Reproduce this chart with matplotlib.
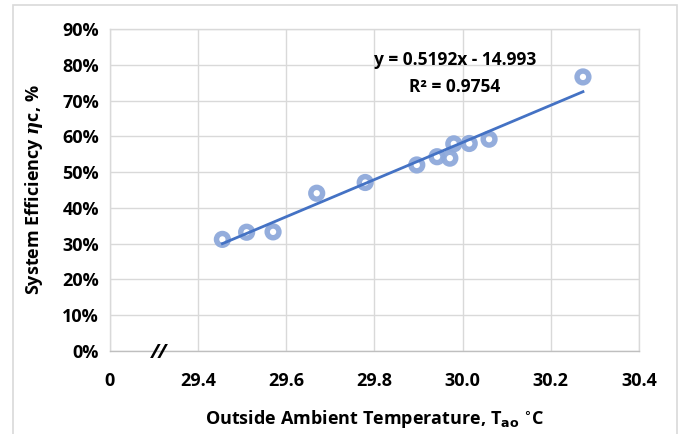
import numpy as np
import matplotlib
matplotlib.use("Agg")
import matplotlib.pyplot as plt
from matplotlib.ticker import FuncFormatter
from matplotlib.patches import Rectangle

plt.rcParams['font.family'] = ['Open Sans', 'DejaVu Sans']
plt.rcParams['font.weight'] = 'bold'
plt.rcParams['mathtext.fontset'] = 'custom'
plt.rcParams['mathtext.it'] = 'DejaVu Serif:italic'

# measured points (outside ambient temperature, system efficiency)
temp = [29.455, 29.510, 29.570, 29.669, 29.779, 29.896,
        29.942, 29.971, 29.980, 30.015, 30.060, 30.273]
eff = [0.312, 0.332, 0.333, 0.441, 0.471, 0.520,
       0.543, 0.539, 0.579, 0.580, 0.592, 0.766]

# linear fit shown on chart
slope = 0.5192
intercept = -14.993

xticks = [29.2, 29.4, 29.6, 29.8, 30.0, 30.2, 30.4]
xtick_labels = ['0', '29.4', '29.6', '29.8', '30.0', '30.2', '30.4']
yticks = np.arange(0, 0.91, 0.1)

fig = plt.figure(figsize=(6.86, 4.34), dpi=100)
ax = fig.add_axes([0.1603, 0.1912, 0.7711, 0.742])

# outer chart border
fig.patches.append(Rectangle((13 / 686, -0.05), 664 / 686, 1.05 - 5 / 434,
                             transform=fig.transFigure, fill=False,
                             edgecolor='#D9D9D9', linewidth=1.2))

ax.scatter(temp, eff, s=72, facecolors='none', edgecolors='#8EA9DB',
           linewidths=3.9, alpha=0.95, zorder=3)

xfit = np.array([min(temp), max(temp)])
ax.plot(xfit, slope * xfit + intercept, color='#4472C4', linewidth=2, zorder=4)

ax.set_xlim(29.2, 30.4)
ax.set_ylim(0, 0.9)
ax.set_xticks(xticks)
ax.set_xticklabels(xtick_labels)
ax.set_yticks(yticks)
ax.yaxis.set_major_formatter(FuncFormatter(lambda v, p: f'{v * 100:.0f}%'))
ax.tick_params(length=0, labelsize=13, pad=8)
ax.tick_params(axis='x', pad=15)
for lab in ax.get_xticklabels() + ax.get_yticklabels():
    lab.set_fontweight('bold')

ax.grid(True, color='#D9D9D9', linewidth=1)
for sp in ax.spines.values():
    sp.set_color('#D9D9D9')
    sp.set_linewidth(1)
ax.spines['bottom'].set_color('#BFBFBF')
ax.set_axisbelow(True)

ax.set_ylabel(r'System Efficiency $\eta$c, %', fontsize=13, fontweight='bold', labelpad=12)
ax.set_xlabel(r'Outside Ambient Temperature, T$_{\mathrm{ao}}$ $^{\circ}$C',
              fontsize=13, fontweight='bold', labelpad=13)

ax.text(0.092, -0.005, '//', transform=ax.transAxes, fontsize=14,
        ha='center', va='center', style='italic')

ax.text(0.653, 0.905, 'y = 0.5192x - 14.993', transform=ax.transAxes,
        fontsize=12.5, ha='center', va='center', fontweight='bold')
ax.text(0.651, 0.820, 'R² = 0.9754', transform=ax.transAxes,
        fontsize=12.5, ha='center', va='center', fontweight='bold')

fig.savefig('out.png', dpi=100)
